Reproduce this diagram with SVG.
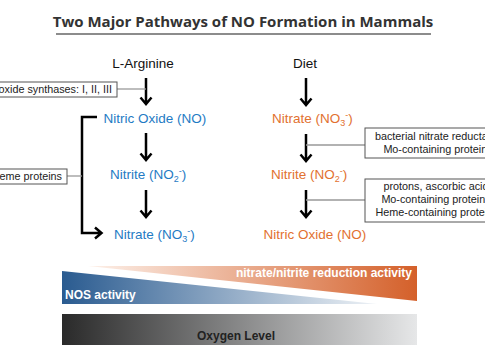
<svg xmlns="http://www.w3.org/2000/svg" width="485" height="360" viewBox="0 0 485 360">
<style>
.title{font-family:"Open Sans","Liberation Sans",sans-serif;font-weight:bold;font-size:15px;fill:#333}
.lbl{font-family:"Liberation Sans",Arial,sans-serif;font-size:13.5px}
.blk{fill:#111}
.blue{fill:#1f7bc4}
.org{fill:#e2712f}
.box{fill:#fff;stroke:#555;stroke-width:1}
.btxt{font-family:"Liberation Sans",Arial,sans-serif;font-size:10.8px;fill:#222}
.arr{fill:none;stroke:#000;stroke-width:2.5;stroke-linejoin:miter}
.conn{fill:none;stroke:#999;stroke-width:1.3}
.bar{font-family:"Liberation Sans",Arial,sans-serif;font-weight:bold;font-size:12px}
</style>
<defs>
<linearGradient id="gBlue" x1="0" y1="0" x2="1" y2="0">
<stop offset="0" stop-color="#2a5b90"/>
<stop offset="1" stop-color="#eef2f6"/>
</linearGradient>
<linearGradient id="gOrg" x1="0" y1="0" x2="1" y2="0">
<stop offset="0" stop-color="#fdf1ea"/>
<stop offset="1" stop-color="#d4602a"/>
</linearGradient>
<linearGradient id="gGray" x1="0" y1="0" x2="1" y2="0">
<stop offset="0" stop-color="#2a2a2a"/>
<stop offset="1" stop-color="#e6e7e8"/>
</linearGradient>
</defs>

<g id="title">
<text class="title" x="243" y="27" text-anchor="middle">Two Major Pathways of NO Formation in Mammals</text>
<line x1="56" y1="34" x2="431" y2="34" stroke="#666" stroke-width="1.5"/>
</g>

<g id="connectors">
<path class="arr" d="M146 78V104M140.5 97.5L146 104L151.5 97.5"/>
<path class="arr" d="M146 133V160M140.5 153.5L146 160L151.5 153.5"/>
<path class="arr" d="M146 190V217M140.5 210.5L146 217L151.5 210.5"/>
<path class="arr" d="M97 117H82V233H101M95 227.5L101.5 233L95 238.5"/>
<path class="arr" d="M306 78V105M300.5 98.5L306 105L311.5 98.5"/>
<path class="arr" d="M306 134V161M300.5 154.5L306 161L311.5 154.5"/>
<path class="arr" d="M306 190V217M300.5 210.5L306 217L311.5 210.5"/>
<line class="conn" x1="117" y1="89" x2="146" y2="89"/>
<line class="conn" x1="67" y1="176" x2="82" y2="176"/>
<line class="conn" x1="306" y1="145" x2="365" y2="145" stroke="#666"/>
<line class="conn" x1="306" y1="200" x2="365" y2="200" stroke="#aaa"/>
</g>

<g id="l-arginine"><text class="lbl blk" x="143" y="68" text-anchor="middle">L-Arginine</text></g>
<g id="diet"><text class="lbl blk" x="305" y="68" text-anchor="middle">Diet</text></g>

<g id="nos-box">
<rect class="box" x="-5" y="82" width="122" height="15"/>
<text class="btxt" x="112" y="93" text-anchor="end">oxide synthases: I, II, III</text>
</g>
<g id="heme-box">
<rect class="box" x="-5" y="169" width="72" height="15"/>
<text class="btxt" x="62" y="180" text-anchor="end">eme proteins</text>
</g>

<g id="no-left"><text class="lbl blue" x="155" y="123" text-anchor="middle">Nitric Oxide (NO)</text></g>
<g id="nitrite-left"><text class="lbl blue" x="110" y="179">Nitrite (NO<tspan font-size="9" dy="3">2</tspan><tspan font-size="9" dy="-8">-</tspan><tspan dy="5">)</tspan></text></g>
<g id="nitrate-left"><text class="lbl blue" x="114" y="239">Nitrate (NO<tspan font-size="9" dy="3">3</tspan><tspan font-size="9" dy="-8">-</tspan><tspan dy="5">)</tspan></text></g>

<g id="nitrate-right"><text class="lbl org" x="272" y="123">Nitrate (NO<tspan font-size="9" dy="3">3</tspan><tspan font-size="9" dy="-8">-</tspan><tspan dy="5">)</tspan></text></g>
<g id="nitrite-right"><text class="lbl org" x="271" y="179">Nitrite (NO<tspan font-size="9" dy="3">2</tspan><tspan font-size="9" dy="-8">-</tspan><tspan dy="5">)</tspan></text></g>
<g id="no-right"><text class="lbl org" x="315" y="239" text-anchor="middle">Nitric Oxide (NO)</text></g>

<g id="reductase-box">
<rect class="box" x="365" y="128" width="150" height="30"/>
<text class="btxt" x="437" y="140" text-anchor="middle">bacterial nitrate reductase</text>
<text class="btxt" x="438" y="153" text-anchor="middle">Mo-containing proteins</text>
</g>
<g id="reduction-box">
<rect class="box" x="365" y="179" width="150" height="43"/>
<text class="btxt" x="436" y="190" text-anchor="middle">protons, ascorbic acid</text>
<text class="btxt" x="436" y="203" text-anchor="middle">Mo-containing proteins</text>
<text class="btxt" x="437" y="216" text-anchor="middle">Heme-containing proteins</text>
</g>

<g id="activity">
<polygon points="88,266 417,266 417,301" fill="url(#gOrg)"/>
<polygon points="62,271 377,304 62,304" fill="url(#gBlue)"/>
<text class="bar" x="412" y="277" text-anchor="end" fill="#fff">nitrate/nitrite reduction activity</text>
<text class="bar" x="65" y="299" fill="#fff">NOS activity</text>
</g>
<g id="oxygen">
<rect x="62" y="314" width="355" height="31" fill="url(#gGray)"/>
<text class="bar" x="236" y="340" text-anchor="middle" fill="#222">Oxygen Level</text>
</g>
</svg>
